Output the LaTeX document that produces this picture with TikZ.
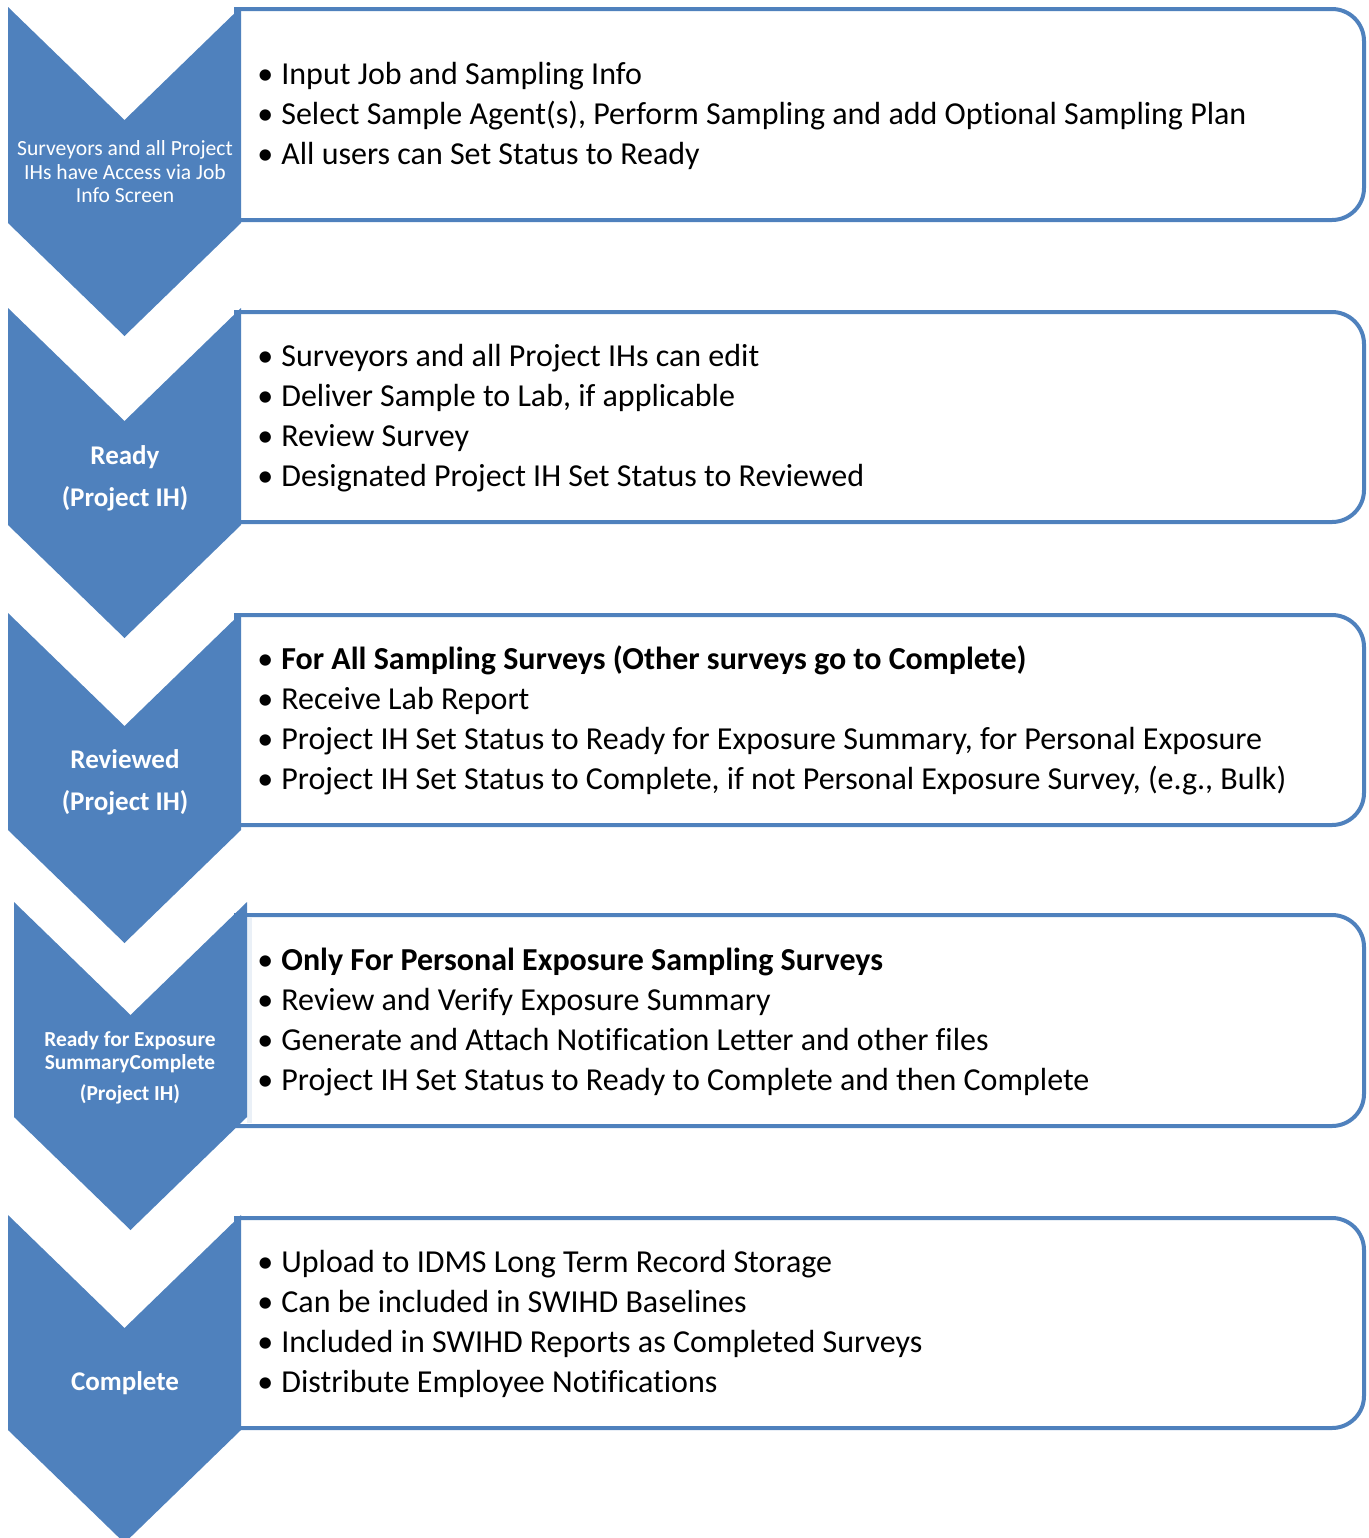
\documentclass[tikz,border=0pt]{standalone}
\usepackage{fontspec}
\setmainfont{Carlito}[Ligatures=NoCommon]
\definecolor{chv}{HTML}{4F81BD}
\newcommand{\itm}{\makebox[12pt][l]{\textbullet}}

\begin{document}
\begin{tikzpicture}[x=0.5pt, y=-0.5pt,
  chevron/.style={fill=chv},
  panel/.style={draw=chv, line width=2pt, fill=white},
  tag/.style={text=white, align=center, inner sep=0pt, font=\fontsize{10.8}{11.75}\selectfont},
  stage/.style={text=white, align=center, inner sep=0pt, font=\fontsize{13.5}{21}\selectfont\bfseries},
  items/.style={anchor=west, inner sep=0pt, align=left, font=\fontsize{16}{20}\selectfont}]

  \useasboundingbox (0,0) rectangle (1369,1538);

  % panels, only the right corners rounded
  \foreach \t/\b in {9/220, 312/522, 615/825, 915/1126, 1218/1428}
    \draw[panel] (236,\t) -- (1332,\t) arc[start angle=90, end angle=0, radius=16pt]
      -- (1364,\b-32) arc[start angle=0, end angle=-90, radius=16pt] -- (236,\b) -- cycle;
  \fill[chv!12] (247,918) rectangle (252,1123);

  % chevrons down the left
  \foreach \l/\t/\b in {8/7/223, 8/308/525, 8/613/830, 14/902/1117, 8/1215/1430}
    \fill[chevron] (\l,\t) -- ++(116.5,113) -- ++(116.5,-113) -- (\l+233,\b)
      -- ++(-116.5,113) -- ++(-116.5,-113) -- cycle;

  \node[tag] (access) at (125,172) {Surveyors and all Project\\IHs have Access via Job\\Info Screen};
  \node[stage] (ready) at (125,478) {Ready\\(Project IH)};
  \node[stage] (reviewed) at (125,782) {Reviewed\\(Project IH)};
  \node[tag, font=\fontsize{10.7}{11.5}\selectfont\bfseries] (summary) at (130,1068) {Ready for Exposure\\SummaryComplete\\[4pt](Project IH)};
  \node[stage] (complete) at (125,1383) {Complete};

  \node[items] (l1) at (257,116) {\itm Input Job and Sampling Info\\
    \itm Select Sample Agent(s), Perform Sampling and add Optional Sampling Plan\\
    \itm All users can Set Status to Ready};
  \node[items] (l2) at (257,418) {\itm Surveyors and all Project IHs can edit\\
    \itm Deliver Sample to Lab, if applicable\\
    \itm Review Survey\\
    \itm Designated Project IH Set Status to Reviewed};
  \node[items] (l3) at (257,720) {\itm \textbf{For All Sampling Surveys (Other surveys go to Complete)}\\
    \itm Receive Lab Report\\
    \itm Project IH Set Status to Ready for Exposure Summary, for Personal Exposure\\
    \itm Project IH Set Status to Complete, if not Personal Exposure Survey, (e.g., Bulk)};
  \node[items] (l4) at (257,1022) {\itm \textbf{Only For Personal Exposure Sampling Surveys}\\
    \itm Review and Verify Exposure Summary\\
    \itm Generate and Attach Notification Letter and other files\\
    \itm Project IH Set Status to Ready to Complete and then Complete};
  \node[items] (l5) at (257,1324) {\itm Upload to IDMS Long Term Record Storage\\
    \itm Can be included in SWIHD Baselines\\
    \itm Included in SWIHD Reports as Completed Surveys\\
    \itm Distribute Employee Notifications};

\end{tikzpicture}
\end{document}
